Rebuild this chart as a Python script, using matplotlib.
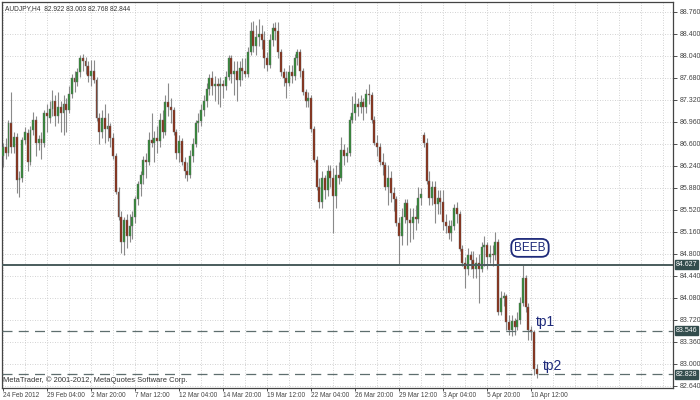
import matplotlib
matplotlib.use("Agg")
import matplotlib.pyplot as plt
from matplotlib.transforms import blended_transform_factory

plt.rcParams['font.family'] = ['Liberation Sans', 'DejaVu Sans']

title_text = "AUDJPY,H4  82.922 83.003 82.768 82.844"
footer_text = "MetaTrader, \u00a9 2001-2012, MetaQuotes Software Corp."

opens = [86.40, 86.55, 86.45, 86.94, 86.55, 86.72, 86.01, 86.05, 86.67, 86.78,
         86.30, 86.83, 87.00, 86.62, 86.68, 86.62, 87.10, 87.02, 87.18, 87.30,
         87.05, 87.20, 87.10, 87.25, 87.15, 87.42, 87.68, 87.62, 87.78, 88.00,
         87.95, 87.88, 87.72, 87.80, 87.65, 87.02, 86.80, 87.02, 86.85, 86.90,
         86.70, 86.40, 85.82, 85.40, 85.00, 85.35, 85.10, 85.25, 85.40, 85.70,
         85.95, 86.10, 86.34, 86.30, 86.67, 86.62, 86.70, 86.65, 87.00, 86.80,
         87.28, 87.20, 87.15, 86.80, 86.45, 86.65, 86.30, 86.15, 86.10, 86.40,
         86.60, 86.95, 86.98, 87.15, 87.30, 87.50, 87.68, 87.55, 87.58, 87.55,
         87.58, 87.55, 87.70, 88.00, 87.75, 87.80, 87.65, 87.85, 87.80, 87.75,
         88.10, 88.45, 88.20, 88.35, 88.40, 88.30, 88.00, 87.90, 88.30, 88.50,
         88.45, 88.10, 87.78, 87.68, 87.60, 87.78, 87.72, 88.00, 88.10, 87.80,
         87.45, 87.30, 87.35, 86.85, 86.34, 85.90, 85.65, 86.05, 85.85, 86.15,
         86.05, 85.75, 86.10, 86.05, 86.50, 86.40, 86.45, 87.00, 87.10, 87.25,
         87.20, 87.28, 87.20, 87.42, 87.40, 87.00, 86.62, 86.55, 86.30, 86.25,
         85.90, 86.05, 85.80, 85.70, 85.30, 85.10, 85.40, 85.63, 85.35, 85.30,
         85.40, 85.38, 85.72, 86.75, 86.62, 86.00, 85.72, 85.90, 85.62, 85.72,
         85.65, 85.32, 85.25, 85.15, 85.25, 85.55, 85.45, 84.88, 84.65, 84.55,
         84.78, 84.70, 84.55, 84.65, 84.55, 84.92, 84.95, 84.75, 84.80, 84.78,
         85.00, 83.85, 84.08, 84.12, 83.68, 83.55, 83.70, 83.60, 83.72, 84.00,
         84.40, 83.93, 83.55, 83.52, 82.922]
highs = [86.62, 86.70, 87.00, 87.45, 86.80, 86.78, 86.15, 86.72, 86.88, 86.85,
         86.90, 87.12, 87.05, 86.75, 86.80, 87.15, 87.25, 87.30, 87.48, 87.40,
         87.45, 87.30, 87.40, 87.35, 87.55, 87.75, 87.80, 87.85, 88.05, 88.08,
         88.02, 87.95, 87.98, 87.97, 87.70, 87.10, 87.15, 87.25, 87.10, 86.95,
         86.78, 86.45, 85.90, 85.50, 85.40, 85.45, 85.45, 85.50, 85.75, 86.00,
         86.15, 86.40, 86.45, 86.80, 87.10, 86.82, 86.90, 87.10, 87.15, 87.40,
         87.60, 87.35, 87.20, 86.85, 86.75, 86.70, 86.38, 86.30, 86.50, 86.70,
         87.00, 87.10, 87.25, 87.40, 87.60, 87.75, 87.80, 87.72, 87.68, 87.70,
         87.65, 87.80, 88.05, 88.05, 87.95, 87.95, 87.95, 88.00, 88.00, 88.18,
         88.60, 88.62, 88.55, 88.65, 88.55, 88.45, 88.10, 88.40, 88.58, 88.60,
         88.60, 88.15, 87.85, 87.80, 87.90, 87.90, 88.08, 88.15, 88.15, 87.85,
         87.50, 87.45, 87.40, 86.90, 86.40, 86.05, 86.15, 86.10, 86.25, 86.25,
         86.20, 86.25, 86.30, 86.72, 86.60, 86.55, 87.05, 87.38, 87.45, 87.35,
         87.40, 87.35, 87.50, 87.58, 87.45, 87.05, 86.75, 86.62, 86.45, 86.30,
         86.25, 86.15, 85.90, 85.75, 85.40, 85.55, 85.70, 85.70, 85.55, 85.55,
         85.60, 85.90, 85.88, 86.80, 86.70, 86.15, 86.00, 86.00, 85.85, 85.85,
         85.85, 85.45, 85.35, 85.35, 85.62, 85.65, 85.50, 84.95, 84.75, 84.90,
         84.85, 84.85, 84.75, 84.80, 85.00, 85.10, 85.00, 84.95, 84.95, 85.16,
         85.05, 84.20, 84.18, 84.15, 83.80, 83.80, 83.75, 83.85, 84.10, 84.62,
         84.45, 84.00, 83.62, 83.55, 83.003]
lows = [86.22, 86.35, 86.40, 86.45, 86.45, 85.80, 85.73, 85.98, 86.60, 86.15,
        86.25, 86.75, 86.40, 86.50, 86.35, 86.55, 86.80, 86.95, 87.05, 86.90,
        86.95, 86.80, 86.75, 86.80, 87.10, 87.35, 87.45, 87.55, 87.70, 87.80,
        87.75, 87.62, 87.55, 87.60, 86.98, 86.60, 86.70, 86.62, 86.65, 86.55,
        86.35, 85.78, 85.35, 84.82, 84.78, 84.90, 85.00, 85.05, 85.30, 85.60,
        85.75, 85.95, 86.05, 86.25, 86.55, 86.30, 86.45, 86.55, 86.70, 86.75,
        87.05, 86.95, 86.75, 86.35, 86.30, 86.25, 86.05, 86.00, 86.05, 86.30,
        86.55, 86.80, 86.90, 87.05, 87.20, 87.40, 87.40, 87.30, 87.25, 87.20,
        87.35, 87.48, 87.65, 87.60, 87.40, 87.30, 87.55, 87.65, 87.70, 87.70,
        88.05, 88.10, 88.05, 88.20, 88.15, 87.84, 87.80, 87.85, 88.20, 88.30,
        88.00, 87.72, 87.55, 87.35, 87.55, 87.60, 87.65, 87.90, 87.70, 87.40,
        87.20, 87.20, 86.80, 86.30, 85.85, 85.55, 85.55, 85.70, 85.75, 85.90,
        85.15, 85.55, 85.95, 86.00, 86.25, 86.30, 86.40, 86.95, 87.00, 87.05,
        87.10, 87.00, 87.10, 87.25, 86.95, 86.58, 86.40, 86.25, 86.10, 85.85,
        85.60, 85.65, 85.50, 85.25, 84.62, 84.95, 85.30, 84.95, 85.00, 85.05,
        85.20, 85.30, 85.60, 86.55, 85.95, 85.60, 85.60, 85.30, 85.45, 85.45,
        85.20, 85.15, 85.05, 85.02, 85.20, 85.30, 84.85, 84.60, 84.25, 84.45,
        84.55, 84.40, 84.40, 84.00, 84.50, 84.60, 84.55, 84.65, 84.60, 84.70,
        83.80, 83.80, 83.95, 83.55, 83.47, 83.45, 83.48, 83.55, 83.65, 83.95,
        83.85, 83.40, 83.40, 82.82, 82.768]
closes = [86.55, 86.45, 86.94, 86.55, 86.72, 86.01, 86.05, 86.67, 86.80, 86.30,
          86.83, 87.00, 86.62, 86.68, 86.62, 87.10, 87.05, 87.18, 87.30, 87.05,
          87.20, 87.10, 87.25, 87.15, 87.42, 87.68, 87.62, 87.78, 88.00, 87.95,
          87.88, 87.72, 87.80, 87.65, 87.02, 86.80, 87.02, 86.85, 86.90, 86.70,
          86.40, 85.82, 85.40, 85.00, 85.35, 85.10, 85.25, 85.40, 85.70, 85.95,
          86.10, 86.34, 86.30, 86.67, 86.62, 86.70, 86.65, 87.00, 86.80, 87.28,
          87.20, 87.15, 86.80, 86.45, 86.65, 86.30, 86.15, 86.10, 86.40, 86.60,
          86.95, 86.98, 87.15, 87.30, 87.50, 87.68, 87.55, 87.58, 87.55, 87.58,
          87.55, 87.70, 88.00, 87.75, 87.80, 87.65, 87.85, 87.80, 87.75, 88.10,
          88.45, 88.20, 88.35, 88.40, 88.30, 88.00, 87.90, 88.30, 88.50, 88.45,
          88.10, 87.78, 87.68, 87.60, 87.78, 87.72, 88.00, 88.10, 87.80, 87.45,
          87.30, 87.35, 86.85, 86.34, 85.90, 85.65, 86.05, 85.85, 86.15, 86.05,
          85.75, 86.10, 86.05, 86.50, 86.40, 86.45, 87.00, 87.10, 87.25, 87.20,
          87.28, 87.20, 87.42, 87.40, 87.00, 86.62, 86.55, 86.30, 86.25, 85.90,
          86.05, 85.80, 85.70, 85.30, 85.10, 85.40, 85.63, 85.35, 85.30, 85.40,
          85.38, 85.72, 85.78, 86.62, 86.00, 85.72, 85.90, 85.62, 85.72, 85.65,
          85.32, 85.25, 85.15, 85.25, 85.55, 85.45, 84.88, 84.65, 84.55, 84.78,
          84.70, 84.55, 84.65, 84.55, 84.92, 84.95, 84.75, 84.80, 84.78, 85.00,
          83.85, 84.08, 84.12, 83.68, 83.55, 83.70, 83.60, 83.72, 84.00, 84.40,
          83.93, 83.55, 83.52, 82.92, 82.844]

date_labels = ["24 Feb 2012", "29 Feb 04:00", "2 Mar 20:00", "7 Mar 12:00",
               "12 Mar 04:00", "14 Mar 20:00", "19 Mar 12:00", "22 Mar 04:00",
               "26 Mar 20:00", "29 Mar 12:00", "3 Apr 04:00", "5 Apr 20:00",
               "10 Apr 12:00"]
bars_per_label = 16
price_ticks = [82.640, 83.000, 83.360, 83.720, 84.080, 84.440, 84.800, 85.160,
               85.520, 85.880, 86.240, 86.600, 86.960, 87.320, 87.680, 88.040,
               88.400, 88.760]

level_main = 84.627
level_tp1 = 83.546
level_tp2 = 82.828
level_names = ["BEEB", "tp1", "tp2"]

bull_color = "#2f8a34"
bear_color = "#8a2c12"
wick_color = "#8a8a8a"
grid_color = "#c4c4c4"
navy = "#1e2a7a"
tag_bg = "#334d4d"

fig = plt.figure(figsize=(7, 4), dpi=100)
fig.patch.set_facecolor("white")
ax = fig.add_axes([2 / 700, 12 / 400, 671 / 700, 386 / 400])
ax.set_facecolor("white")

n = len(closes)
xs = list(range(n))

# grid
for k in range(0, 250, bars_per_label // 2):
    ax.axvline(k, color=grid_color, lw=0.6, ls=(0, (1, 2)), zorder=0)
for p in price_ticks:
    ax.axhline(p, color=grid_color, lw=0.6, ls=(0, (1, 2)), zorder=0)

# wicks
ax.vlines(xs, lows, highs, color=wick_color, lw=0.8, zorder=2)
# bodies
bottoms = [min(o, c) for o, c in zip(opens, closes)]
heights = [max(abs(c - o), 0.012) for o, c in zip(opens, closes)]
colors = [bull_color if c >= o else bear_color for o, c in zip(opens, closes)]
ax.bar(xs, heights, bottom=bottoms, width=0.72, color=colors,
       edgecolor="#6a6a6a", linewidth=0.3, zorder=3)

# levels
ax.axhline(level_main, color="#4a5c5c", lw=1.4, zorder=4)
ax.axhline(level_tp1, color="#5e6e6e", lw=0.9, ls=(0, (8, 5)), zorder=4)
ax.axhline(level_tp2, color="#5e6e6e", lw=0.9, ls=(0, (8, 5)), zorder=4)

ax.set_xlim(-0.36, 243.6)
ax.set_ylim(82.607, 88.9236)

# y axis on right
ax.yaxis.tick_right()
ax.set_yticks(price_ticks)
ax.set_yticklabels([f"{p:.3f}" for p in price_ticks])
ax.tick_params(axis="y", labelsize=5.0, length=3, width=0.6, pad=1.5,
               colors="#333333", labelcolor="#444444")

tick_pos = [i * bars_per_label for i in range(len(date_labels))]
ax.set_xticks(tick_pos)
ax.set_xticklabels(date_labels)
for lab in ax.get_xticklabels():
    lab.set_horizontalalignment("left")
ax.tick_params(axis="x", labelsize=4.7, length=2.5, width=0.6, pad=0.5,
               colors="#333333", labelcolor="#444444")

for s in ax.spines.values():
    s.set_color("#444444")
    s.set_linewidth(0.9)

# price tags on the right axis
trans = blended_transform_factory(ax.transAxes, ax.transData)
for lvl in (level_main, level_tp1, level_tp2):
    ax.text(1.004, lvl, f"{lvl:.3f}", transform=trans, fontsize=5.0,
            color="white", va="center", ha="left", zorder=6, clip_on=False,
            bbox=dict(boxstyle="square,pad=0.15", facecolor=tag_bg,
                      edgecolor=tag_bg))

# annotations
ax.text(191.6, 84.90, level_names[0], fontsize=8.5, color=navy,
        ha="center", va="center", zorder=7,
        bbox=dict(boxstyle="round,pad=0.25,rounding_size=0.6",
                  facecolor="white", edgecolor=navy, linewidth=1.3))
ax.text(193.8, level_tp1 + 0.03, level_names[1], fontsize=10, color=navy,
        ha="left", va="bottom", zorder=7)
ax.text(196.4, level_tp2 + 0.03, level_names[2], fontsize=10, color=navy,
        ha="left", va="bottom", zorder=7)

ax.text(0.004, 0.993, title_text, transform=ax.transAxes, fontsize=4.8,
        color="#333333", ha="left", va="top", zorder=7)
ax.text(0.002, 0.02, footer_text, transform=ax.transAxes, fontsize=5.4,
        color="#333333", ha="left", va="center", zorder=7)

fig.savefig("out.png", dpi=100, facecolor="white")
